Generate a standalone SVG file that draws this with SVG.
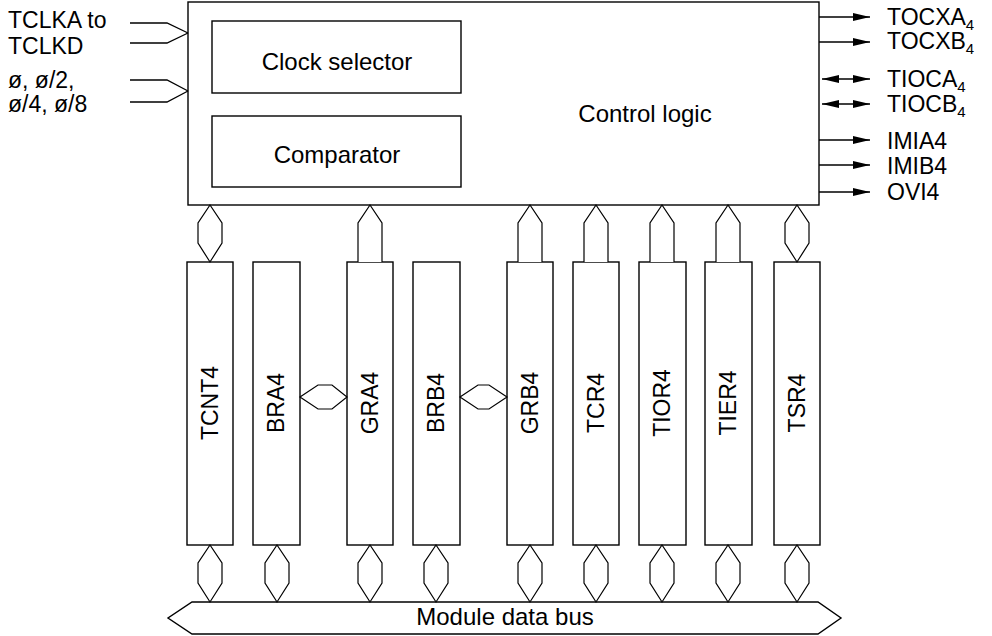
<svg xmlns="http://www.w3.org/2000/svg" width="992" height="636" viewBox="0 0 992 636">
<style>
.box{fill:#fff;stroke:#000;stroke-width:1.4}
.ln{fill:none;stroke:#000;stroke-width:1.3}
.hx{fill:#fff;stroke:#000;stroke-width:1.2}
text{font-family:"Liberation Sans",Arial,sans-serif;font-size:23px;fill:#000}
.big{font-size:24px}
.sub{font-size:15px}
.rl{text-anchor:middle}
</style>
<defs>
<marker id="ah" viewBox="0 0 17 8" refX="17" refY="4" markerWidth="17" markerHeight="8" markerUnits="userSpaceOnUse" orient="auto-start-reverse">
<path d="M0,0 L17,4 L0,8 Z" fill="#000"/>
</marker>
</defs>
<rect width="992" height="636" fill="#fff"/>

<g id="control">
<rect class="box" x="188" y="2" width="631" height="203"/>
<text x="645" y="122" class="rl big">Control logic</text>
</g>
<g id="clock-selector">
<rect class="box" x="212" y="21" width="249" height="72"/>
<text x="337" y="70" class="rl big">Clock selector</text>
</g>
<g id="comparator">
<rect class="box" x="212" y="116" width="249" height="71"/>
<text x="337" y="163" class="rl big">Comparator</text>
</g>

<g id="inputs-labels">
<text x="8" y="28">TCLKA to</text>
<text x="8" y="54">TCLKD</text>
<text x="8" y="88">ø, ø/2,</text>
<text x="8" y="112">ø/4, ø/8</text>
</g>

<g id="outputs-labels">
<text x="887" y="25">TOCXA<tspan class="sub" dy="5">4</tspan></text>
<text x="887" y="49">TOCXB<tspan class="sub" dy="5">4</tspan></text>
<text x="887" y="87">TIOCA<tspan class="sub" dy="5">4</tspan></text>
<text x="887" y="112">TIOCB<tspan class="sub" dy="5">4</tspan></text>
<text x="887" y="149">IMIA4</text>
<text x="887" y="174">IMIB4</text>
<text x="887" y="200">OVI4</text>
</g>

<g id="TCNT4"><rect class="box" x="187" y="262" width="46" height="283"/><text class="rl" transform="translate(218,403) rotate(-90)">TCNT4</text></g>
<g id="BRA4"><rect class="box" x="253" y="262" width="47" height="283"/><text class="rl" transform="translate(284,403) rotate(-90)">BRA4</text></g>
<g id="GRA4"><rect class="box" x="347" y="262" width="46" height="283"/><text class="rl" transform="translate(378,403) rotate(-90)">GRA4</text></g>
<g id="BRB4"><rect class="box" x="413" y="262" width="47" height="283"/><text class="rl" transform="translate(444,403) rotate(-90)">BRB4</text></g>
<g id="GRB4"><rect class="box" x="507" y="262" width="46" height="283"/><text class="rl" transform="translate(538,403) rotate(-90)">GRB4</text></g>
<g id="TCR4"><rect class="box" x="573" y="262" width="46" height="283"/><text class="rl" transform="translate(604,403) rotate(-90)">TCR4</text></g>
<g id="TIOR4"><rect class="box" x="639" y="262" width="47" height="283"/><text class="rl" transform="translate(670,403) rotate(-90)">TIOR4</text></g>
<g id="TIER4"><rect class="box" x="705" y="262" width="47" height="283"/><text class="rl" transform="translate(736,403) rotate(-90)">TIER4</text></g>
<g id="TSR4"><rect class="box" x="774" y="262" width="46" height="283"/><text class="rl" transform="translate(805,403) rotate(-90)">TSR4</text></g>

<g id="module-data-bus">
<polygon class="box" points="192,602 818,602 841,618 818,634 192,634 168,618"/>
<text x="505" y="625" class="rl big">Module data bus</text>
</g>

<g id="connectors">
<polyline class="ln" points="130,23 167,23 188,33"/>
<polyline class="ln" points="130,43 167,43 188,33"/>
<polyline class="ln" points="130,80 167,80 188,91"/>
<polyline class="ln" points="130,102 167,102 188,91"/>

<line class="ln" x1="819" y1="17" x2="870" y2="17" marker-end="url(#ah)"/>
<line class="ln" x1="819" y1="42" x2="870" y2="42" marker-end="url(#ah)"/>
<line class="ln" x1="822" y1="79" x2="870" y2="79" marker-start="url(#ah)" marker-end="url(#ah)"/>
<line class="ln" x1="822" y1="104" x2="870" y2="104" marker-start="url(#ah)" marker-end="url(#ah)"/>
<line class="ln" x1="819" y1="140" x2="870" y2="140" marker-end="url(#ah)"/>
<line class="ln" x1="819" y1="165" x2="870" y2="165" marker-end="url(#ah)"/>
<line class="ln" x1="819" y1="192" x2="870" y2="192" marker-end="url(#ah)"/>

<polygon class="hx" points="210,205 222,223 222,243 210,262 198,243 198,223"/>
<polygon class="hx" points="797,205 809,223 809,243 797,262 785,243 785,223"/>
<polyline class="hx" points="358,262 358,223 370,205 382,223 382,262"/>
<polyline class="hx" points="518,262 518,223 530,205 542,223 542,262"/>
<polyline class="hx" points="584,262 584,223 596,205 608,223 608,262"/>
<polyline class="hx" points="650,262 650,223 662,205 674,223 674,262"/>
<polyline class="hx" points="716,262 716,223 728,205 740,223 740,262"/>

<polygon class="hx" points="300,397 318,385 332,385 347,397 332,409 318,409"/>
<polygon class="hx" points="460,397 478,385 489,385 507,397 489,409 478,409"/>

<polygon class="hx" points="210,545 222,563 222,583 210,602 198,583 198,563"/>
<polygon class="hx" points="277,545 289,563 289,583 277,602 265,583 265,563"/>
<polygon class="hx" points="370,545 382,563 382,583 370,602 358,583 358,563"/>
<polygon class="hx" points="436,545 448,563 448,583 436,602 424,583 424,563"/>
<polygon class="hx" points="530,545 542,563 542,583 530,602 518,583 518,563"/>
<polygon class="hx" points="596,545 608,563 608,583 596,602 584,583 584,563"/>
<polygon class="hx" points="662,545 674,563 674,583 662,602 650,583 650,563"/>
<polygon class="hx" points="728,545 740,563 740,583 728,602 716,583 716,563"/>
<polygon class="hx" points="797,545 809,563 809,583 797,602 785,583 785,563"/>
</g>
</svg>
